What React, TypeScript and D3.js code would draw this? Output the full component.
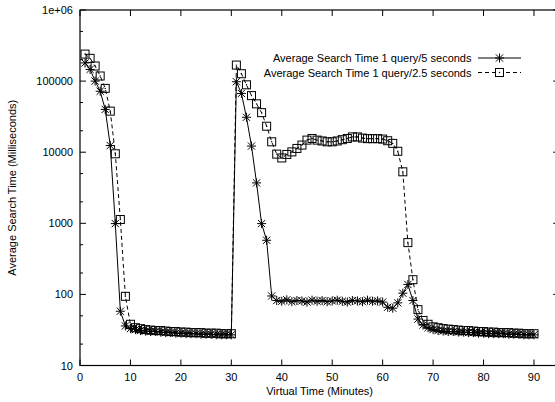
import React from "react";
import * as d3 from "d3";

const minutes: number[] = Array.from({ length: 90 }, (_, i) => i + 1);

const series5s: number[] = [
  180000, 146000, 100000, 72000, 40000, 12400, 990, 58, 36, 33,
  32, 31, 30.5, 30, 30, 29.5, 29, 29, 28.5, 28.5,
  28, 28, 28, 27.5, 27.5, 27.5, 27, 27, 27, 27,
  98000, 67000, 31000, 12200, 3700, 990, 577, 95, 82, 80,
  84, 79, 82, 81, 78, 83, 80, 82, 79, 81,
  83, 80, 78, 82, 81, 79, 83, 80, 81, 78,
  66, 64, 76, 104, 138, 82, 45, 37, 34, 32,
  31, 30.5, 30, 30, 29.5, 29.5, 29, 29, 28.5, 28.5,
  28, 28, 28, 28, 27.5, 27.5, 27.5, 27, 27, 27,
];

const series25s: number[] = [
  240000, 209000, 163000, 118000, 79000, 37800, 9500, 1130, 94, 38,
  34, 33, 32, 31.5, 31, 31, 30.5, 30, 30, 29.5,
  29.5, 29, 29, 29, 28.5, 28.5, 28.5, 28, 28, 28,
  168000, 127000, 88700, 62500, 47900, 36000, 23200, 14000, 9400, 8300,
  9300, 10100, 11300, 12600, 14800, 15600, 14800, 14400, 14000, 14000,
  14400, 15000, 15600, 16400, 16400, 15800, 15500, 15500, 15500, 15300,
  14500, 13300, 10300, 5300, 535, 161, 61, 43, 38, 35,
  34, 33, 32.5, 32, 31.5, 31, 31, 30.5, 30, 30,
  29.5, 29.5, 29, 29, 29, 28.5, 28.5, 28, 28, 28,
];

const xTicks: number[] = [0, 10, 20, 30, 40, 50, 60, 70, 80, 90];
const yTicks: number[] = [10, 100, 1000, 10000, 100000, 1000000];
const yTickLabels: string[] = ["10", "100", "1000", "10000", "100000", "1e+06"];
const yMinorTicks: number[] = [20, 50, 200, 500, 2000, 5000, 20000, 50000, 200000, 500000];
const legendLabels: string[] = [
  "Average Search Time 1 query/5 seconds",
  "Average Search Time 1 query/2.5 seconds",
];

const W = 555;
const H = 402;
const left = 80;
const right = 559.2;
const top = 10;
const bottom = 365.5;
const FONT = "'Liberation Sans', Arial, Helvetica, sans-serif";

function starPath(cx: number, cy: number, s = 4.5): string {
  const d = s * 0.8;
  return `M${cx - s},${cy}L${cx + s},${cy}M${cx},${cy - s}L${cx},${cy + s}` +
    `M${cx - d},${cy - d}L${cx + d},${cy + d}M${cx - d},${cy + d}L${cx + d},${cy - d}`;
}

export default function App() {
  const x = d3.scaleLinear().domain([0, 95]).range([left, right]);
  const y = d3.scaleLog().domain([10, 1000000]).range([bottom, top]);

  const line = d3
    .line<[number, number]>()
    .x((d) => x(d[0]))
    .y((d) => y(d[1]));

  const d1: [number, number][] = minutes.map((m, i) => [m, series5s[i]]);
  const d2: [number, number][] = minutes.map((m, i) => [m, series25s[i]]);

  const legY = [58, 72.5];
  const legTextX = 471.5;
  const legLineX0 = 478;
  const legLineX1 = 521;
  const legMid = (legLineX0 + legLineX1) / 2;

  return (
    <svg
      width={W}
      height={H}
      style={{ position: "fixed", left: 0, top: 0, background: "#fff" }}
      fontFamily={FONT}
    >
      <rect x={0} y={0} width={W} height={H} fill="#fff" />
      {/* frame */}
      <rect
        x={left}
        y={top}
        width={right - left}
        height={bottom - top}
        fill="none"
        stroke="#000"
        strokeWidth={1.2}
      />
      {/* x ticks */}
      {xTicks.map((t) => (
        <g key={"xt" + t}>
          <line x1={x(t)} x2={x(t)} y1={bottom} y2={bottom - 6} stroke="#000" strokeWidth={1} />
          <line x1={x(t)} x2={x(t)} y1={top} y2={top + 6} stroke="#000" strokeWidth={1} />
          <text x={x(t)} y={381} fontSize={11} textAnchor="middle" fill="#000">
            {t}
          </text>
        </g>
      ))}
      {/* y ticks */}
      {yTicks.map((t, i) => (
        <g key={"yt" + t}>
          <line x1={left} x2={left + 6} y1={y(t)} y2={y(t)} stroke="#000" strokeWidth={1} />
          <line x1={right} x2={right - 6} y1={y(t)} y2={y(t)} stroke="#000" strokeWidth={1} />
          <text x={73} y={y(t) + 4} fontSize={11} textAnchor="end" fill="#000">
            {yTickLabels[i]}
          </text>
        </g>
      ))}
      {yMinorTicks.map((t) => (
        <g key={"ym" + t}>
          <line x1={left} x2={left + 3} y1={y(t)} y2={y(t)} stroke="#000" strokeWidth={1} />
          <line x1={right} x2={right - 3} y1={y(t)} y2={y(t)} stroke="#000" strokeWidth={1} />
        </g>
      ))}
      {/* axis labels */}
      <text x={(left + right) / 2} y={395} fontSize={11} textAnchor="middle" fill="#000">
        Virtual Time (Minutes)
      </text>
      <text
        transform={`translate(16,${(top + bottom) / 2}) rotate(-90)`}
        fontSize={11}
        textAnchor="middle"
        fill="#000"
      >
        Average Search Time (Milliseconds)
      </text>

      {/* series 1: solid with stars */}
      <path d={line(d1) || ""} fill="none" stroke="#000" strokeWidth={1} />
      {d1.map((d, i) => (
        <path key={"s1" + i} d={starPath(x(d[0]), y(d[1]))} stroke="#000" strokeWidth={1} fill="none" />
      ))}

      {/* series 2: dashed with squares */}
      <path d={line(d2) || ""} fill="none" stroke="#000" strokeWidth={1} strokeDasharray="4,3" />
      {d2.map((d, i) => (
        <g key={"s2" + i}>
          <rect x={x(d[0]) - 4} y={y(d[1]) - 4} width={8} height={8} fill="none" stroke="#000" strokeWidth={1} />
          <circle cx={x(d[0])} cy={y(d[1])} r={0.7} fill="#000" />
        </g>
      ))}

      {/* legend */}
      <text x={legTextX} y={legY[0] + 4} fontSize={11} textAnchor="end" fill="#000">
        {legendLabels[0]}
      </text>
      <line x1={legLineX0} x2={legLineX1} y1={legY[0]} y2={legY[0]} stroke="#000" strokeWidth={1} />
      <path d={starPath(legMid, legY[0])} stroke="#000" strokeWidth={1} fill="none" />
      <text x={legTextX} y={legY[1] + 4} fontSize={11} textAnchor="end" fill="#000">
        {legendLabels[1]}
      </text>
      <line x1={legLineX0} x2={legLineX1} y1={legY[1]} y2={legY[1]} stroke="#000" strokeWidth={1} strokeDasharray="4,3" />
      <rect x={legMid - 4} y={legY[1] - 4} width={8} height={8} fill="#fff" stroke="#000" strokeWidth={1} />
      <circle cx={legMid} cy={legY[1]} r={0.7} fill="#000" />
    </svg>
  );
}
